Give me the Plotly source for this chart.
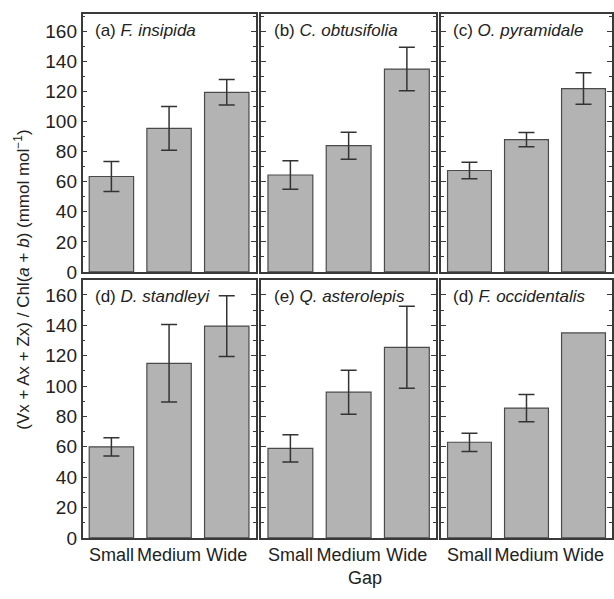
import plotly.graph_objects as go

W, H = 614, 599

gaps = ["Small", "Medium", "Wide"]
panel_labels = ["(a) ", "(b) ", "(c) ", "(d) ", "(e) ", "(d) "]
species = ["F. insipida", "C. obtusifolia", "O. pyramidale",
           "D. standleyi", "Q. asterolepis", "F. occidentalis"]

vals_a = [63.5, 95.5, 119.5]
err_a = [10.0, 14.5, 8.5]
vals_b = [64.5, 84.0, 135.0]
err_b = [9.5, 9.0, 14.5]
vals_c = [67.5, 88.0, 122.0]
err_c = [5.5, 4.7, 10.5]
vals_d = [60.0, 115.0, 139.5]
err_d = [6.0, 25.5, 20.0]
vals_e = [59.0, 96.0, 125.5]
err_e = [9.0, 14.5, 27.0]
vals_f = [63.0, 85.5, 135.0]
err_f = [6.0, 9.0, None]   # no error bar shown for Wide

values = [vals_a, vals_b, vals_c, vals_d, vals_e, vals_f]
errors = [err_a, err_b, err_c, err_d, err_e, err_f]

y_tickvals = [0, 20, 40, 60, 80, 100, 120, 140, 160]

col_px = [(82.7, 256.0), (261.7, 436.7), (441.7, 613.0)]
row_px = [(14.0, 277.0), (285.0, 548.0)]
yranges = [[0, 171.8], [0, 170.0]]

fig = go.Figure()
FONT = "Liberation Sans, Arial, sans-serif"
LINE = "#3a3a3a"
BAR_MARKER = dict(color="#b3b3b3", line=dict(color="#4a4a4a", width=1.2))

for i in range(6):
    r, c = divmod(i, 3)
    n = i + 1
    xa = "x" if n == 1 else f"x{n}"
    ya = "y" if n == 1 else f"y{n}"
    errs = errors[i]
    xs_e = [g for g, e in zip(gaps, errs) if e is not None]
    ys_e = [v for v, e in zip(values[i], errs) if e is not None]
    es = [e for e in errs if e is not None]
    xs_n = [g for g, e in zip(gaps, errs) if e is None]
    ys_n = [v for v, e in zip(values[i], errs) if e is None]
    fig.add_trace(go.Bar(
        x=xs_e, y=ys_e, xaxis=xa, yaxis=ya, marker=BAR_MARKER, width=0.77,
        error_y=dict(type="data", array=es, visible=True,
                     color="#333333", thickness=1.5, width=8),
        showlegend=False,
    ))
    if xs_n:
        fig.add_trace(go.Bar(
            x=xs_n, y=ys_n, xaxis=xa, yaxis=ya, marker=BAR_MARKER,
            width=0.77, showlegend=False,
        ))
    x0, x1 = col_px[c]
    y0, y1 = row_px[r]
    xdom = [x0 / W, x1 / W]
    ydom = [1 - y1 / H, 1 - y0 / H]
    xkey = "xaxis" if n == 1 else f"xaxis{n}"
    ykey = "yaxis" if n == 1 else f"yaxis{n}"
    fig.layout[xkey] = dict(
        domain=xdom, anchor=ya, type="category", range=[-0.5, 2.5],
        categoryorder="array", categoryarray=gaps,
        showline=True, mirror=True, linecolor=LINE, linewidth=1.5,
        ticks="", showticklabels=(r == 1), ticklabelstandoff=0,
        tickfont=dict(family=FONT, size=18, color="#222"),
        minor=dict(ticks="inside", tick0=0.5, dtick=1, ticklen=4,
                   tickcolor=LINE, tickwidth=1),
        showgrid=False, zeroline=False, fixedrange=True,
    )
    fig.layout[ykey] = dict(
        domain=ydom, anchor=xa, range=yranges[r],
        showline=True, mirror="allticks", linecolor=LINE, linewidth=1.5,
        ticks="inside", ticklen=5, tickwidth=1, tickcolor=LINE,
        tickvals=y_tickvals, showticklabels=(c == 0),
        tickfont=dict(family=FONT, size=19, color="#222"),
        minor=dict(ticks="inside", dtick=10, ticklen=3, tickcolor=LINE,
                   tickwidth=1),
        showgrid=False, zeroline=False, fixedrange=True,
    )
    fig.add_annotation(
        xref=f"{xa} domain", yref=f"{ya} domain", x=0.06, y=0.98,
        xanchor="left", yanchor="top", showarrow=False,
        text=f"{panel_labels[i]}<i>{species[i]}</i>",
        font=dict(family=FONT, size=17, color="#222"),
    )

fig.add_annotation(
    xref="paper", yref="paper", x=22 / W, y=1 - 285 / H,
    xanchor="center", yanchor="middle", textangle=-90, showarrow=False,
    text="(Vx + Ax + Zx) / Chl(<i>a</i> + <i>b</i>) (mmol mol<sup>−1</sup>)",
    font=dict(family=FONT, size=17, color="#222"),
)
fig.add_annotation(
    xref="paper", yref="paper", x=366 / W, y=1 - 589 / H,
    xanchor="center", yanchor="middle", showarrow=False,
    text="Gap", font=dict(family=FONT, size=18, color="#222"),
)

fig.update_layout(
    width=W, height=H, margin=dict(l=0, r=0, t=0, b=0),
    paper_bgcolor="white", plot_bgcolor="white", barmode="overlay",
)

fig.write_html("out.html", config={"displayModeBar": False},
               post_script="document.body.style.margin='0';"
                           "document.body.style.overflow='hidden';")
